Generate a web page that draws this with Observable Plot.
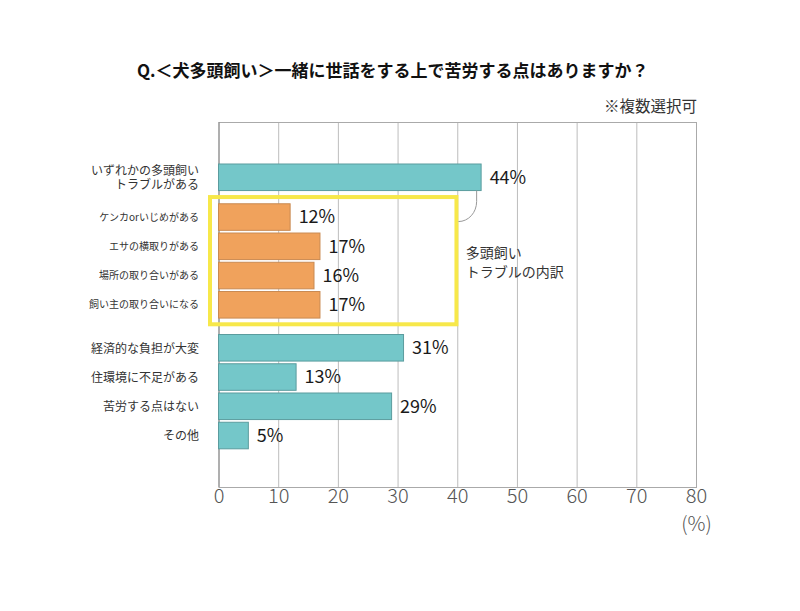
<!DOCTYPE html>
<html>
<head>
<meta charset="utf-8">
<script src="https://cdn.jsdelivr.net/npm/d3@7"></script>
<script src="https://cdn.jsdelivr.net/npm/@observablehq/plot@0.6"></script>
<style>
  html, body { margin: 0; padding: 0; background: #fff; }
  #wrap { position: relative; width: 800px; height: 611px; font-family: "Noto Sans CJK JP", "Noto Sans", sans-serif; }
  #title { position: absolute; left: 137px; top: 60px; font-size: 17px; font-weight: bold; color: #111; line-height: 20px; white-space: nowrap; }
  #note { position: absolute; right: 103px; top: 95px; font-size: 15.5px; color: #333; line-height: 20px; white-space: nowrap; }
  #chart { position: absolute; left: 0; top: 0; }
</style>
</head>
<body>
<div id="wrap">
  <div id="chart"></div>
  <div id="title">Q.＜犬多頭飼い＞一緒に世話をする上で苦労する点はありますか？</div>
  <div id="note">※複数選択可</div>
</div>
<script>
// ---- data ----
const categories = [
  "いずれかの多頭飼い\nトラブルがある",
  "ケンカorいじめがある",
  "エサの横取りがある",
  "場所の取り合いがある",
  "飼い主の取り合いになる",
  "経済的な負担が大変",
  "住環境に不足がある",
  "苦労する点はない",
  "その他"
];
const values = [44, 12, 17, 16, 17, 31, 13, 29, 5];
const groups = ["total", "breakdown", "breakdown", "breakdown", "breakdown", "other", "other", "other", "other"];
const xTicks = [0, 10, 20, 30, 40, 50, 60, 70, 80];
const breakdownNote = "多頭飼い\nトラブルの内訳";
const unitLabel = "(%)";

// ---- layout ----
const groupGaps = {breakdown: 0.36, other: 0.47};
let offset = 0;
const rows = categories.map((label, i) => {
  if (i > 0 && groups[i] !== groups[i - 1]) offset += groupGaps[groups[i]];
  return {label, value: values[i], group: groups[i], pos: i + offset};
});
const lastPos = rows[rows.length - 1].pos;
const halfBar = 0.454;
const fills = {total: "#74c7c9", breakdown: "#f0a25c", other: "#74c7c9"};
const strokes = {total: "#5b9c9e", breakdown: "#c98a52", other: "#5b9c9e"};
const font = "'Noto Sans CJK JP', 'Noto Sans', sans-serif";

const chart = Plot.plot({
  width: 800,
  height: 611,
  marginTop: 122,
  marginBottom: 124,
  marginLeft: 218.5,
  marginRight: 104,
  style: {fontFamily: font, background: "white"},
  x: {domain: [0, 80], axis: null},
  y: {domain: [-1.89, lastPos + 1.76], reverse: true, axis: null},
  marks: [
    Plot.ruleX(xTicks.slice(1, -1), {stroke: "#bdbdbd", strokeWidth: 1}),
    Plot.frame({stroke: "#aaaaaa"}),
    Plot.ruleX([0], {stroke: "#8a8a8a"}),
    Plot.rect(rows, {
      x1: 0, x2: "value",
      y1: d => d.pos - halfBar, y2: d => d.pos + halfBar,
      fill: d => fills[d.group], stroke: d => strokes[d.group], strokeWidth: 1
    }),
    Plot.text(rows, {
      x: "value", y: "pos", text: d => d.value + "%",
      dx: 8, textAnchor: "start", fontSize: 18, fill: "#1a1a1a"
    }),
    Plot.text(rows.filter(d => d.group !== "breakdown"), {
      x: 0, y: "pos", text: "label", dx: -20, textAnchor: "end",
      fontSize: 12, fill: "#333", lineHeight: 1.16
    }),
    Plot.text(rows.filter(d => d.group === "breakdown"), {
      x: 0, y: "pos", text: "label", dx: -20, textAnchor: "end",
      fontSize: 10, fill: "#333"
    }),
    Plot.text(xTicks, {
      x: d => d, frameAnchor: "bottom", dy: 15, text: d => String(d),
      fontSize: 20, fill: "#555", fontWeight: 300
    }),
    Plot.text([unitLabel], {
      x: 80, frameAnchor: "bottom", dy: 43, text: d => d,
      fontSize: 20, fill: "#555", fontWeight: 300
    }),
    Plot.text([breakdownNote], {
      x: 40, y: d3.mean(rows.filter(r => r.group === "breakdown"), r => r.pos),
      text: d => d, dx: 8, textAnchor: "start", fontSize: 14, fill: "#333", lineHeight: 1.36
    })
  ]
});

// annotation box and connector drawn with the chart's own scales
const xs = chart.scale("x"), ys = chart.scale("y");
const X = v => xs.apply(v), Y = v => ys.apply(v);
const svg = d3.select(chart.tagName === "svg" ? chart : chart.querySelector("svg"));
const bd = rows.filter(r => r.group === "breakdown");
const boxTop = Y(d3.min(bd, r => r.pos)) - 20;
const boxBottom = Y(d3.max(bd, r => r.pos)) + 19.5;
const boxLeft = X(0) - 8.5;
const boxRight = X(40) - 0.8;
svg.append("rect")
  .attr("x", boxLeft).attr("y", boxTop)
  .attr("width", boxRight - boxLeft).attr("height", boxBottom - boxTop)
  .attr("fill", "none").attr("stroke", "#f7e84a").attr("stroke-width", 4);
const total = rows.find(r => r.group === "total");
const cx = X(total.value) - 4.5;
const cy0 = Y(total.pos) + halfBar * (Y(1) - Y(0));
const cy1 = cy0 + 11;
const ey = cy1 + 20;
svg.append("path")
  .attr("d", `M${cx},${cy0} L${cx},${cy1} A${cx - boxRight - 2},20 0 0 1 ${boxRight + 2},${ey}`)
  .attr("fill", "none").attr("stroke", "#999").attr("stroke-width", 1);

document.getElementById("chart").append(chart);
</script>
</body>
</html>
